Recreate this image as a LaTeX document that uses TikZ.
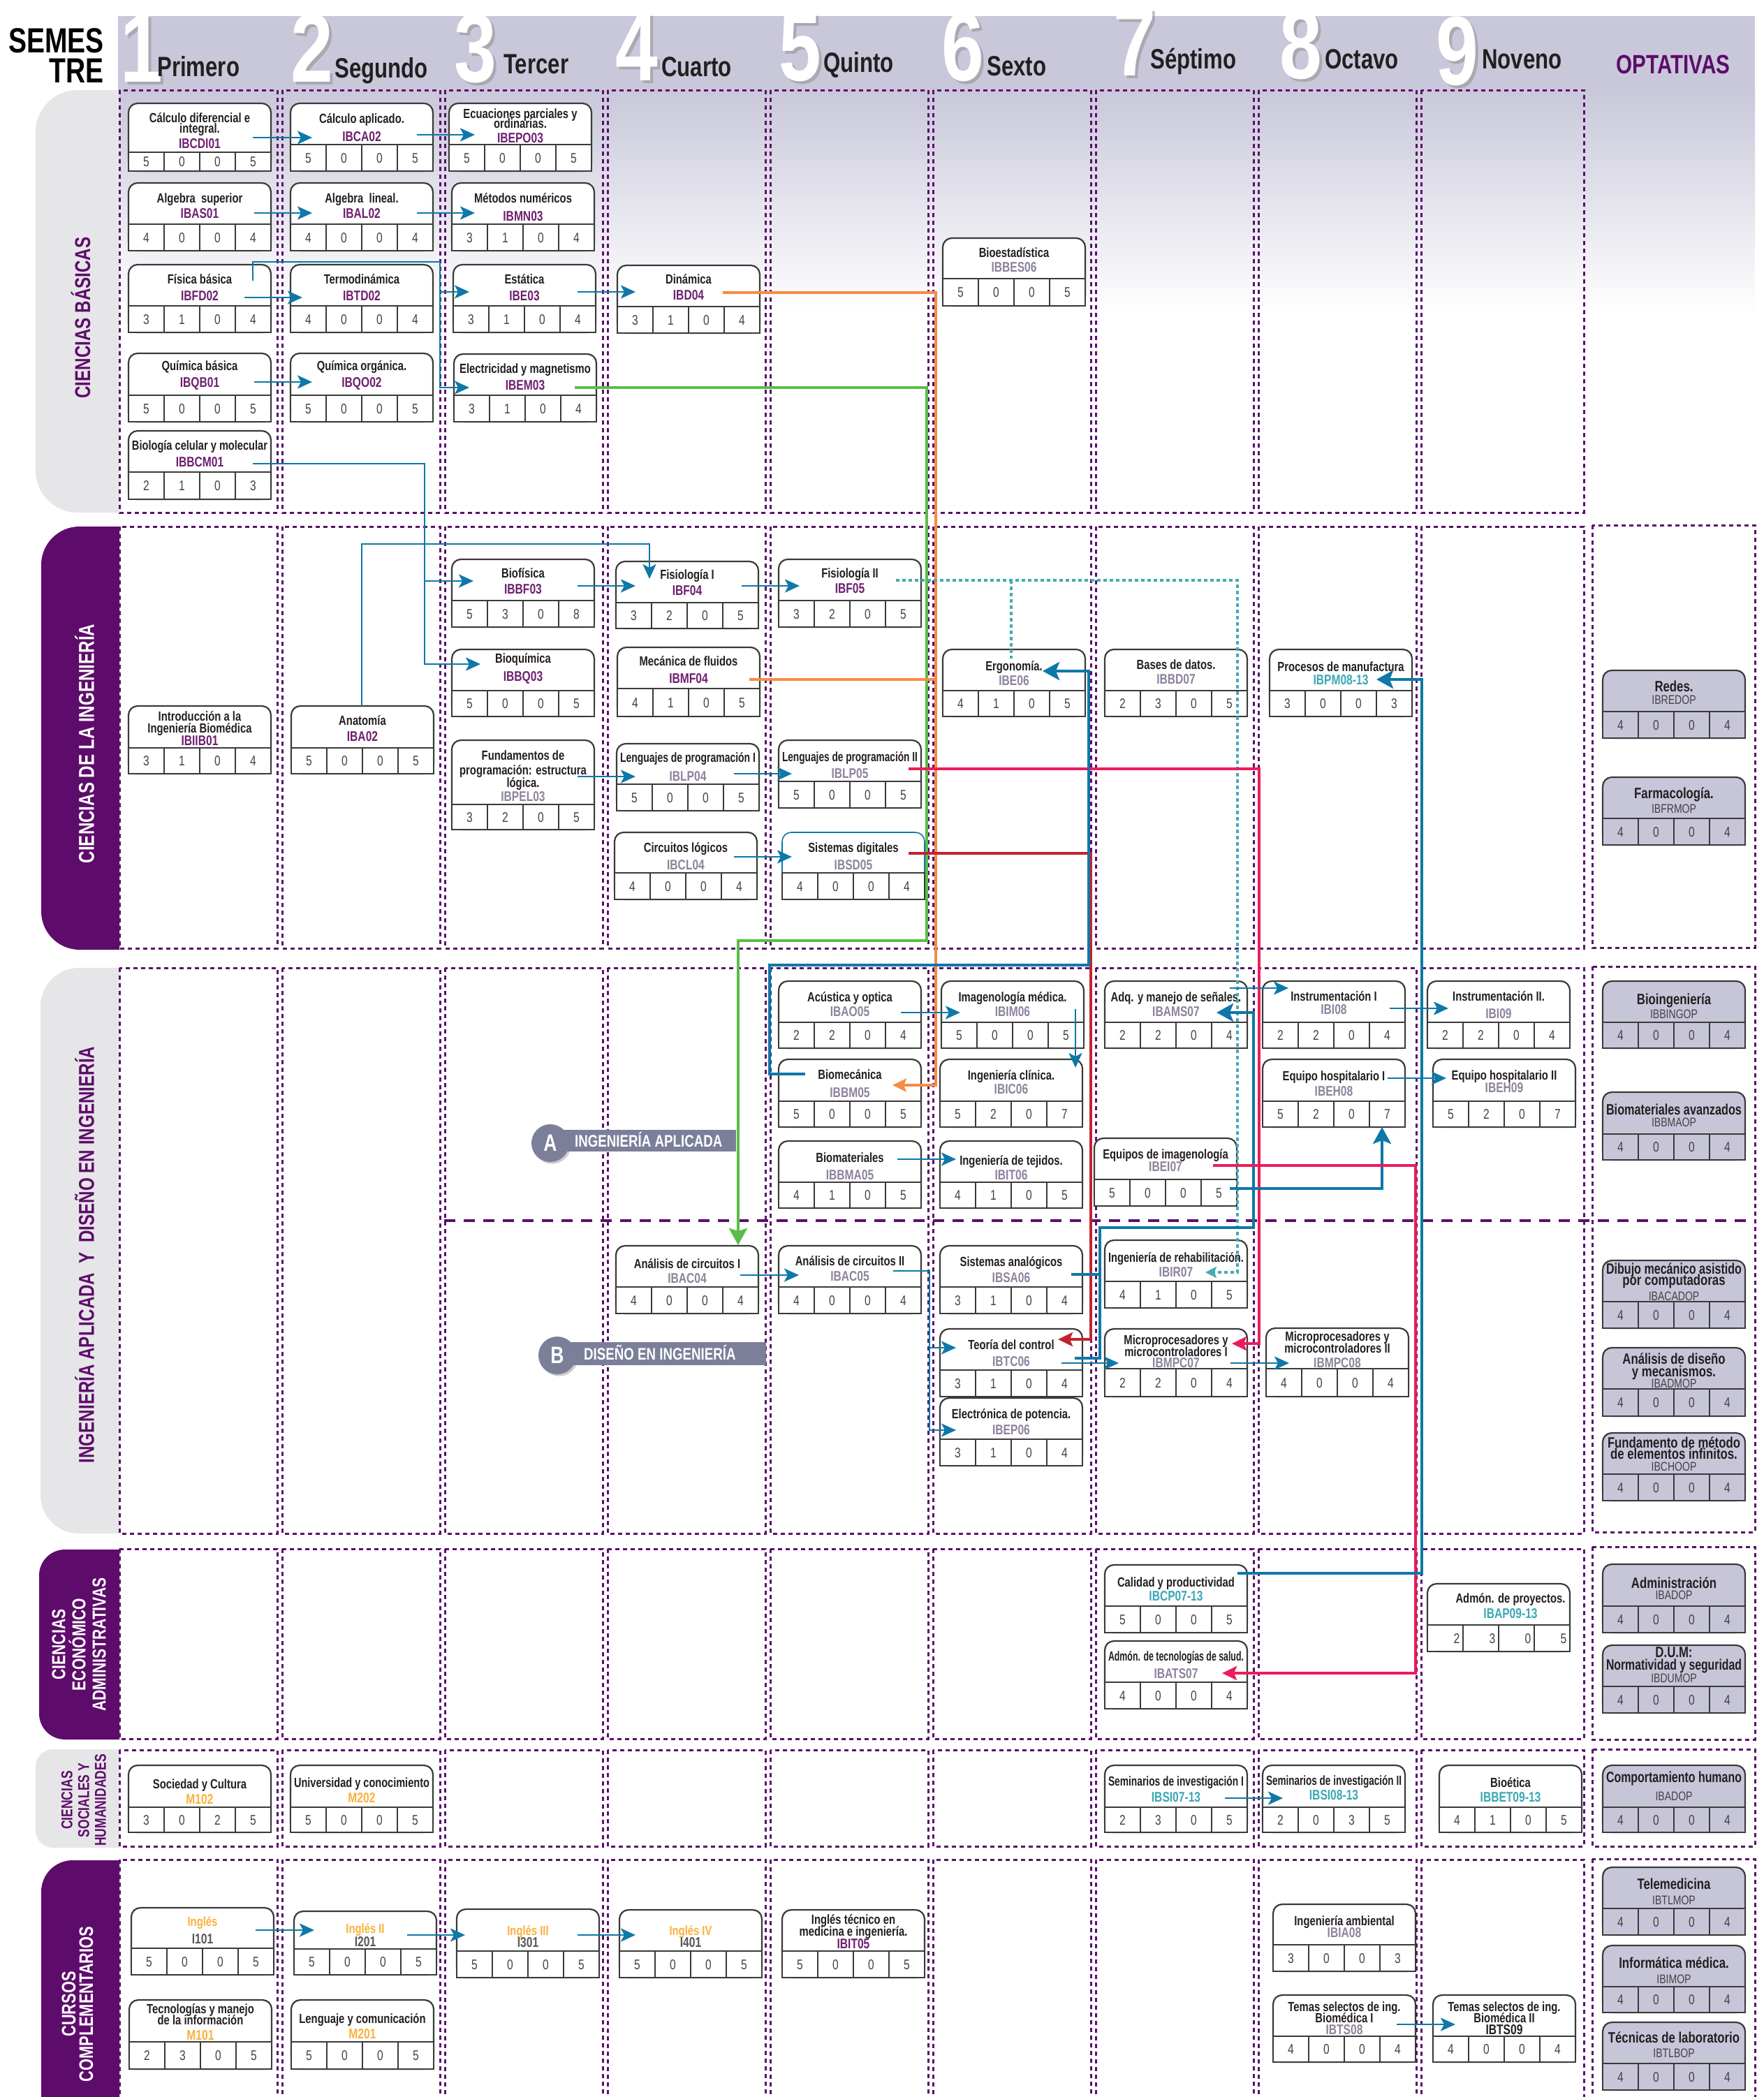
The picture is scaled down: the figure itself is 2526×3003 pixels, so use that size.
\documentclass[tikz,border=0pt]{standalone}
\usepackage{fontspec}
\setmainfont{Liberation Sans}[FakeStretch=0.78]
\usepackage{graphicx}
\usetikzlibrary{arrows.meta,shadows,calc}

\definecolor{ink}{HTML}{231F20}
\definecolor{boxl}{HTML}{3A3A3A}
\definecolor{cp}{HTML}{6E1F70}
\definecolor{cl}{HTML}{8E829E}
\definecolor{ct}{HTML}{3AA8B4}
\definecolor{co}{HTML}{FAB03C}
\definecolor{cg}{HTML}{555555}
\definecolor{lav}{HTML}{C7C6D9}
\definecolor{bandc}{HTML}{C9C8DA}
\definecolor{lgrey}{HTML}{E6E6E8}
\definecolor{purp}{HTML}{5E0C6B}
\definecolor{dotp}{HTML}{5C0F6C}
\definecolor{ablue}{HTML}{0E78A8}
\definecolor{aor}{HTML}{F58B45}
\definecolor{agr}{HTML}{5BBD48}
\definecolor{ared}{HTML}{EC1C5B}
\definecolor{adred}{HTML}{C12430}
\definecolor{ateal}{HTML}{46AAB4}
\definecolor{slate}{HTML}{7B7F99}

\newsavebox\cbx
\NewDocumentCommand\ctl{O{ink} m}{\sbox\cbx{\bfseries\color{#1}#2}\ifdim\wd\cbx>194pt\resizebox{194pt}{\height}{\usebox\cbx}\else\usebox\cbx\fi}
\newcommand\ccd[2]{{\fontsize{20}{22}\selectfont\bfseries\color{#1}#2}}
\newcommand\otl[1]{{\fontsize{21.5}{22}\selectfont\ctl{#1}}}
\newcommand\ocd[1]{{\fontsize{18}{22}\selectfont\color{ink!85}#1}}

% #1 header h, #2 total h, #3 gap, #4 name, #5 x, #6 y, #7 fill, #8 header text, #9 cells
\NewDocumentCommand\course{O{59} O{97} O{7} m m m m m m}{%
  \node[inner sep=0pt,outer sep=0pt,minimum width=204pt,minimum height=#2pt,anchor=north west] (#4) at (#5,#6) {};
  \filldraw[boxst,fill=#7,rounded corners=13pt] (#5,#6) rectangle ++(204,#2);
  \filldraw[fill=#7,boxst] (#5,{#6+#1}) rectangle ++(204,{#2-#1});
  \foreach \k in {1,2,3}{\draw[boxst] ({#5+51*\k},{#6+#1}) -- ++(0,{#2-#1});}
  \node[hdr] (#4-t) at ({#5+102},{#6+#1-#3}) {#8};
  \foreach \v [count=\k] in {#9}{\node[cellf] (#4-c\k) at ({#5+51*\k-25.5},{#6+#1/2+#2/2+7}) {\v};}
}
\newcommand\colgrid[2]{\foreach \i in {0,...,7}{\draw[coldot] ({171+233*\i},#1) rectangle ({397+233*\i},#2);}\draw[coldot] (2035,#1) rectangle (2268,#2);}
\newcommand\optcol[2]{\draw[coldot] (2280,#1) rectangle (2513,#2);}
\newcommand\semhd[7]{%
  \node[dig,text=black!45,opacity=.5] (#1s) at ({#3+4},{#4+4}) {#2};
  \node[dig] (#1d) at (#3,#4) {#2};
  \node[wrd] (#1w) at (#6,#7) {#5};}

\begin{document}
\begin{tikzpicture}[x=1pt,y=-1pt,
  boxst/.style={draw=boxl,line width=2.2pt},
  hdr/.style={anchor=south,align=center,inner sep=0pt,font=\fontsize{19}{22}\selectfont},
  cellf/.style={anchor=base,inner sep=0pt,font=\fontsize{20}{20}\selectfont,text=ink!85},
  coldot/.style={draw=dotp,line width=3pt,dash pattern=on 6pt off 5pt},
  splitd/.style={draw=dotp,line width=4.5pt,dash pattern=on 16pt off 12pt},
  cbl/.style={draw=ablue,line width=2.8pt,-{Stealth[length=21pt,width=19pt,inset=5pt]}},
  cblk/.style={draw=ablue,line width=4.5pt},
  cblkar/.style={cblk,-{Stealth[length=24pt,width=26pt,inset=5pt]}},
  cgr/.style={draw=agr,line width=4.5pt,-{Stealth[length=24pt,width=26pt,inset=4pt]}},
  corl/.style={draw=aor,line width=4pt},
  cor/.style={corl,-{Stealth[length=20pt,width=19pt,inset=4pt]}},
  crd/.style={draw=ared,line width=4pt,-{Stealth[length=21pt,width=20pt,inset=4pt]}},
  cdrd/.style={draw=adred,line width=4pt,-{Stealth[length=21pt,width=20pt,inset=4pt]}},
  ctdl/.style={draw=ateal,line width=4.5pt,dash pattern=on 5pt off 4pt},
  ctd/.style={ctdl,-{Stealth[length=16pt,width=16pt,inset=3pt]}},
  dig/.style={anchor=base,inner sep=0pt,text=white,font=\fontsize{140}{140}\selectfont\bfseries},
  wrd/.style={anchor=base west,inner sep=0pt,text=ink,font=\fontsize{40}{40}\selectfont\bfseries},
  sidel/.style={rotate=90,inner sep=0pt,align=center,font=\fontsize{31}{31}\selectfont\bfseries},
  badge/.style={circle,fill=slate,minimum size=54pt,inner sep=0pt,text=white,font=\fontsize{34}{34}\selectfont\bfseries,drop shadow={opacity=.4}},
  bantxt/.style={anchor=base west,inner sep=0pt,text=white,font=\fontsize{24}{24}\selectfont\bfseries}]
\useasboundingbox (0,0) rectangle (2526,3003);
\clip (0,0) rectangle (2526,3003);
\fill[white] (0,0) rectangle (2526,3003);

% header band
\fill[bandc] (169,23) rectangle (2513,129);
\shade[top color=bandc,bottom color=white] (169,129) rectangle (2513,450);

% side labels
\begin{scope}\clip (0,129) rectangle (171,734); \fill[lgrey,rounded corners=60pt] (51,129) rectangle (400,734);\end{scope}
\begin{scope}\clip (0,754) rectangle (171,1360); \fill[purp,rounded corners=55pt] (59,754) rectangle (400,1360);\end{scope}
\begin{scope}\clip (0,1386) rectangle (171,2196); \fill[lgrey,rounded corners=55pt] (58,1386) rectangle (400,2196);\end{scope}
\begin{scope}\clip (0,2219) rectangle (171,2491); \fill[purp,rounded corners=37pt] (56,2219) rectangle (400,2491);\end{scope}
\begin{scope}\clip (0,2505) rectangle (171,2646); \fill[lgrey,rounded corners=25pt] (51,2505) rectangle (400,2646);\end{scope}
\begin{scope}\clip (0,2664) rectangle (171,3010); \fill[purp,rounded corners=45pt] (59,2664) rectangle (400,3060);\end{scope}

\node[sidel,text=purp] (lab1) at (115.5,455) {CIENCIAS BÁSICAS};
\node[sidel,text=white] (lab2) at (121,1065) {CIENCIAS DE LA INGENIERÍA};
\node[sidel,text=purp] (lab3) at (121,1797) {INGENIERÍA APLICADA~ Y~ DISEÑO EN INGENIERÍA};
\node[sidel,text=white,font=\fontsize{27}{29}\selectfont\bfseries] (lab4) at (113,2355) {CIENCIAS\\ECONÓMICO\\ADMINISTRATIVAS};
\node[sidel,text=purp,font=\fontsize{22.5}{24}\selectfont\bfseries] (lab5) at (120,2578) {CIENCIAS\\SOCIALES Y\\HUMANIDADES};
\node[sidel,text=white,font=\fontsize{28}{25}\selectfont\bfseries] (lab6) at (111,2870) {CURSOS\\COMPLEMENTARIOS};

% column grids
\colgrid{129}{734}
\colgrid{754}{1358}\optcol{752}{1357}
\colgrid{1386}{2196}\optcol{1384}{2194}
\colgrid{2218}{2490}\optcol{2215}{2491}
\colgrid{2506}{2644}\optcol{2505}{2644}
\colgrid{2663}{3020}\optcol{2662}{3020}
\draw[splitd] (636,1748) -- (2513,1748);

% header texts
\node[anchor=base east,inner sep=0pt,font=\fontsize{50}{50}\selectfont\bfseries] (sem1) at (149,76) {SEMES};
\node[anchor=base east,inner sep=0pt,font=\fontsize{50}{50}\selectfont\bfseries] (sem2) at (149,118) {TRE};
\semhd{s1}{1}{203}{117}{Primero}{225}{109}
\semhd{s2}{2}{447}{117}{Segundo}{479}{111}
\semhd{s3}{3}{681}{117}{Tercer}{721}{105}
\semhd{s4}{4}{912}{115}{Cuarto}{947}{110}
\semhd{s5}{5}{1146}{115}{Quinto}{1179}{103}
\semhd{s6}{6}{1379}{115}{Sexto}{1413}{108}
\semhd{s7}{7}{1625}{108}{Séptimo}{1647}{99}
\semhd{s8}{8}{1863}{112}{Octavo}{1897}{98}
\semhd{s9}{9}{2087}{121}{Noveno}{2122}{98}
\node[anchor=base,inner sep=0pt,text=purp,font=\fontsize{38}{38}\selectfont\bfseries] (optt) at (2396,105) {OPTATIVAS};

% ---------- Ciencias basicas
\course[70][97][5]{cdi}{184}{148}{white}{\ctl{Cálculo diferencial e}\\[-7pt]\ctl{integral.}\\\ccd{cp}{IBCDI01}}{5,0,0,5}
\course[59][97][4]{ca}{416}{148}{white}{\ctl{Cálculo aplicado.}\\[4pt]\ccd{cp}{IBCA02}}{5,0,0,5}
\course[59][97][2]{epo}{643}{148}{white}{\ctl{Ecuaciones parciales y}\\[-8pt]\ctl{ordinarias.}\\[-1pt]\ccd{cp}{IBEPO03}}{5,0,0,5}
\course[59][97][8]{as01}{184}{262}{white}{\ctl{Algebra~ superior}\\\ccd{cp}{IBAS01}}{4,0,0,4}
\course[59][97][8]{al02}{416}{262}{white}{\ctl{Algebra~ lineal.}\\\ccd{cp}{IBAL02}}{4,0,0,4}
\course[59][97][4]{mn03}{647}{262}{white}{\ctl{Métodos numéricos}\\[4pt]\ccd{cp}{IBMN03}}{3,1,0,4}
\course{fd}{184}{379}{white}{\ctl{Física básica}\\[2pt]\ccd{cp}{IBFD02}}{3,1,0,4}
\course{td02}{416}{379}{white}{\ctl{Termodinámica}\\[2pt]\ccd{cp}{IBTD02}}{4,0,0,4}
\course{e03}{649}{379}{white}{\ctl{Estática}\\[2pt]\ccd{cp}{IBE03}}{3,1,0,4}
\course[60][98]{qb01}{184}{506}{white}{\ctl{Química básica}\\[2pt]\ccd{cp}{IBQB01}}{5,0,0,5}
\course[60][98]{qo02}{416}{506}{white}{\ctl{Química orgánica.}\\[2pt]\ccd{cp}{IBQO02}}{5,0,0,5}
\course[59][97]{em03}{650}{507}{white}{\ctl{Electricidad y magnetismo}\\[2pt]\ccd{cp}{IBEM03}}{3,1,0,4}
\course[59][98]{bcm}{184}{617}{white}{\ctl{Biología celular y molecular}\\[2pt]\ccd{cp}{IBBCM01}}{2,1,0,3}
\course[59][97][9]{d04}{884}{380}{white}{\ctl{Dinámica}\\[1pt]\ccd{cp}{IBD04}}{3,1,0,4}
\course[58][97][9]{bes}{1350}{341}{white}{\ctl{Bioestadística}\\[-1pt]\ccd{cl}{IBBES06}}{5,0,0,5}

% ---------- Ciencias de la ingenieria
\course[60][97][3]{iib}{184}{1011}{white}{\ctl{Introducción a la}\\[-5pt]\ctl{Ingeniería Biomédica}\\[-4pt]\ccd{cp}{IBIIB01}}{3,1,0,4}
\course[60][97][9]{a02}{417}{1011}{white}{\ctl{Anatomía}\\[1pt]\ccd{cp}{IBA02}}{5,0,0,5}
\course[59][97][9]{bf03}{647}{801}{white}{\ctl{Biofísica}\\[1pt]\ccd{cp}{IBBF03}}{5,3,0,8}
\course[59][96][9]{bq03}{647}{930}{white}{\ctl{Bioquímica}\\[4pt]\ccd{cp}{IBBQ03}}{5,0,0,5}
\course[92][128][4]{pel}{647}{1060}{white}{\ctl{Fundamentos de}\\[-1pt]\ctl{programación: estructura}\\[-4pt]\ctl{lógica.}\\[-2pt]\ccd{cl}{IBPEL03}}{3,2,0,5}
\course[59][96][10]{f04}{882}{804}{white}{\ctl{Fisiología I}\\[1pt]\ccd{cp}{IBF04}}{3,2,0,5}
\course[59][97][10]{f05}{1115}{801}{white}{\ctl{Fisiología II}\\\ccd{cp}{IBF05}}{3,2,0,5}
\course[59][99][7]{mf04}{884}{927}{white}{\ctl{Mecánica de fluidos}\\[3pt]\ccd{cp}{IBMF04}}{4,1,0,5}
\course[58][96][4]{lp04}{883}{1065}{white}{\ctl{Lenguajes de programación I}\\[5pt]\ccd{cl}{IBLP04}}{5,0,0,5}
\course[59][97][4]{lp05}{1115}{1060}{white}{\ctl{Lenguajes de programación II}\\[2pt]\ccd{cl}{IBLP05}}{5,0,0,5}
\course[58][96][4]{cl04}{880}{1192}{white}{\ctl{Circuitos lógicos}\\[3pt]\ccd{cl}{IBCL04}}{4,0,0,4}
\course[58][96][4]{sd05}{1120}{1192}{white,draw=ablue,line width=1.6pt}{\ctl{Sistemas digitales}\\[3pt]\ccd{cl}{IBSD05}}{4,0,0,4}
\course[59][96][7]{e06}{1350}{930}{white}{\ctl{Ergonomía.}\\[-1pt]\ccd{cl}{IBE06}}{4,1,0,5}
\course[59][96][9]{bd07}{1582}{930}{white}{\ctl{Bases de datos.}\\[-1pt]\ccd{cl}{IBBD07}}{2,3,0,5}
\course[59][96][8]{pm08}{1818}{930}{white}{\ctl{Procesos de manufactura}\\[-3pt]\ccd{ct}{IBPM08-13}}{3,0,0,3}
\course[59][97][10]{redes}{2295}{960}{lav}{\otl{Redes.}\\[-4pt]\ocd{IBREDOP}}{4,0,0,4}
\course[59][97][7]{farm}{2295}{1113}{lav}{\otl{Farmacología.}\\[-1pt]\ocd{IBFRMOP}}{4,0,0,4}

% ---------- Ingenieria aplicada (A)
\course[59][96][8]{ao05}{1115}{1405}{white}{\ctl{Acústica y optica}\\[-1pt]\ccd{cl}{IBAO05}}{2,2,0,4}
\course[59][96][8]{im06}{1348}{1405}{white}{\ctl{Imagenología médica.}\\[-1pt]\ccd{cl}{IBIM06}}{5,0,0,5}
\course[60][97][5]{bm05}{1115}{1517}{white}{\ctl{Biomecánica}\\[4pt]\ccd{cl}{IBBM05}}{5,0,0,5}
\course[60][97][10]{ic06}{1346}{1517}{white}{\ctl{Ingeniería clínica.}\\[-2pt]\ccd{cl}{IBIC06}}{5,2,0,7}
\course[59][96][3]{bma05}{1115}{1634}{white}{\ctl{Biomateriales}\\[3pt]\ccd{cl}{IBBMA05}}{4,1,0,5}
\course[59][96][3]{it06}{1346}{1634}{white}{\ctl{Ingeniería de tejidos.}\\[-1pt]\ccd{cl}{IBIT06}}{4,1,0,5}
\course[59][96][8]{ams07}{1582}{1405}{white}{\ctl{Adq. y manejo de señales.}\\[-1pt]\ccd{cl}{IBAMS07}}{2,2,0,4}
\course[59][97][11]{ei07}{1567}{1630}{white}{\ctl{Equipos de imagenología}\\[-4pt]\ccd{cl}{IBEI07}}{5,0,0,5}
\course[59][96][11]{i08}{1808}{1405}{white}{\ctl{Instrumentación I}\\[-3pt]\ccd{cl}{IBI08}}{2,2,0,4}
\course[59][96][5]{i09}{2044}{1405}{white}{\ctl{Instrumentación II.}\\[3pt]\ccd{cl}{IBI09}}{2,2,0,4}
\course[60][97][7]{eh08}{1808}{1517}{white}{\ctl{Equipo hospitalario I}\\\ccd{cl}{IBEH08}}{5,2,0,7}
\course[60][97][12]{eh09}{2052}{1517}{white}{\ctl{Equipo hospitalario II}\\[-4pt]\ccd{cl}{IBEH09}}{5,2,0,7}
\course[59][96][5]{bioing}{2295}{1405}{lav}{\otl{Bioingeniería}\\[-2pt]\ocd{IBBINGOP}}{4,0,0,4}
\course[60][97][10]{bmav}{2295}{1564}{lav}{\otl{Biomateriales avanzados}\\[-5pt]\ocd{IBBMAOP}}{4,0,0,4}

% ---------- Diseno en ingenieria (B)
\course[59][97][5]{ac04}{882}{1784}{white}{\ctl{Análisis de circuitos I}\\[-1pt]\ccd{cl}{IBAC04}}{4,0,0,4}
\course[59][97][8]{ac05}{1115}{1784}{white}{\ctl{Análisis de circuitos II}\\\ccd{cl}{IBAC05}}{4,0,0,4}
\course[59][97][6]{sa06}{1346}{1784}{white}{\ctl{Sistemas analógicos}\\[1pt]\ccd{cl}{IBSA06}}{3,1,0,4}
\course[59][97][5]{tc06}{1346}{1903}{white}{\ctl{Teoría del control}\\[2pt]\ccd{cl}{IBTC06}}{3,1,0,4}
\course[59][97][6]{ep06}{1346}{2002}{white}{\ctl{Electrónica de potencia.}\\[1pt]\ccd{cl}{IBEP06}}{3,1,0,4}
\course[59][97][6]{ir07}{1582}{1776}{white}{\ctl{Ingeniería de rehabilitación.}\\[-1pt]\ccd{cl}{IBIR07}}{4,1,0,5}
\course[57][97][1]{mpc07}{1582}{1903}{white}{\ctl{Microprocesadores y}\\[-5pt]\ctl{microcontroladores I}\\[-6pt]\ccd{cl}{IBMPC07}}{2,2,0,4}
\course[58][98][1]{mpc08}{1813}{1902}{white}{\ctl{Microprocesadores y}\\[-5pt]\ctl{microcontroladores II}\\[-1pt]\ccd{cl}{IBMPC08}}{4,0,0,4}
\course[59][97][1]{dib}{2295}{1805}{lav}{\otl{Dibujo mecánico asistido}\\[-6pt]\otl{por computadoras}\\[0pt]\ocd{IBACADOP}}{4,0,0,4}
\course[59][98][1]{adm}{2295}{1930}{lav}{\otl{Análisis de diseño}\\[-4pt]\otl{y mecanismos.}\\[-6pt]\ocd{IBADMOP}}{4,0,0,4}
\course[59][97][4]{fme}{2295}{2052}{lav}{\otl{Fundamento de método}\\[-6pt]\otl{de elementos infinitos.}\\[-5pt]\ocd{IBCHOOP}}{4,0,0,4}

% ---------- Economico administrativas
\course[59][97][7]{cp07}{1582}{2241}{white}{\ctl{Calidad y productividad}\\[-2pt]\ccd{ct}{IBCP07-13}}{5,0,0,5}
\course[59][97][5]{ats07}{1582}{2350}{white}{\ctl{Admón. de tecnologías de salud.}\\[3pt]\ccd{cl}{IBATS07}}{4,0,0,4}
\course[59][97][9]{ap09}{2044}{2268}{white}{\ctl{\hspace*{34pt}Admón. de proyectos.}\\\ccd{ct}{\hspace*{34pt}IBAP09-13}}{{\kern33pt 2},{\kern33pt 3},{\kern33pt 0},{\kern33pt 5}}
\course[60][98][9]{admin}{2295}{2240}{lav}{\otl{Administración}\\[-6pt]\ocd{IBADOP}}{4,0,0,4}
\course[59][97][5]{dum}{2295}{2356}{lav}{\otl{D.U.M:}\\[-4pt]\otl{Normatividad y seguridad}\\[-4pt]\ocd{IBDUMOP}}{4,0,0,4}

% ---------- Sociales y humanidades
\course[60][96][4]{m102}{184}{2528}{white}{\ctl{Sociedad y Cultura}\\\ccd{co}{M102}}{3,0,2,5}
\course[60][96][6]{m202}{416}{2528}{white}{\ctl{Universidad y conocimiento}\\\ccd{co}{M202}}{5,0,0,5}
\course[60][96][7]{si07}{1582}{2528}{white}{\ctl{Seminarios de investigación I}\\[1pt]\ccd{ct}{IBSI07-13}}{2,3,0,5}
\course[60][96][10]{si08}{1808}{2528}{white}{\ctl{Seminarios de investigación II}\\[-1pt]\ccd{ct}{IBSI08-13}}{2,0,3,5}
\course[60][96][7]{bet}{2061}{2528}{white}{\ctl{Bioética}\\[-1pt]\ccd{ct}{IBBET09-13}}{4,1,0,5}
\course[60][96][9]{comp}{2295}{2528}{lav}{\otl{Comportamiento humano}\\[4pt]\ocd{IBADOP}}{4,0,0,4}

% ---------- Cursos complementarios
\course[58][96][6]{i101}{188}{2732}{white}{\ctl[co]{Inglés}\\[3pt]\ccd{cg}{I101}}{5,0,0,5}
\course[54][91][3]{i201}{421}{2737}{white}{\ctl[co]{Inglés II}\\[-3pt]\ccd{cg}{I201}}{5,0,0,5}
\course[60][98][5]{i301}{654}{2734}{white}{\ctl[co]{Inglés III}\\[-5pt]\ccd{cg}{I301}}{5,0,0,5}
\course[59][97][5]{i401}{887}{2735}{white}{\ctl[co]{Inglés IV}\\[-5pt]\ccd{cg}{I401}}{5,0,0,5}
\course[59][97][3]{it05}{1120}{2735}{white}{\ctl{Inglés técnico en}\\[-5pt]\ctl{medicina e ingeniería.}\\[-4pt]\ccd{cp}{IBIT05}}{5,0,0,5}
\course[60][99][2]{m101}{185}{2864}{white}{\ctl{Tecnologías y manejo}\\[-6pt]\ctl{de la información}\\\ccd{co}{M101}}{2,3,0,5}
\course[60][99][4]{m201}{417}{2864}{white}{\ctl{Lenguaje y comunicación}\\\ccd{co}{M201}}{5,0,0,5}
\course[58][96][10]{ia08}{1823}{2727}{white}{\ctl{Ingeniería ambiental}\\[-5pt]\ccd{cl}{IBIA08}}{3,0,0,3}
\course[59][96][2]{ts08}{1823}{2857}{white}{\ctl{Temas selectos de ing.}\\[-6pt]\ctl{Biomédica I}\\[-5pt]\ccd{cl}{IBTS08}}{4,0,0,4}
\course[59][96][2]{ts09}{2052}{2857}{white}{\ctl{Temas selectos de ing.}\\[-6pt]\ctl{Biomédica II}\\[-5pt]\ccd{ink}{IBTS09}}{4,0,0,4}
\course[59][97][5]{tele}{2295}{2674}{lav}{\otl{Telemedicina}\\\ocd{IBTLMOP}}{4,0,0,4}
\course[59][96][4]{infm}{2295}{2786}{lav}{\otl{Informática médica.}\\\ocd{IBIMOP}}{4,0,0,4}
\course[59][97][8]{tlab}{2295}{2896}{lav}{\otl{Técnicas de laboratorio}\\[-1pt]\ocd{IBTLBOP}}{4,0,0,4}

% ---------- connectors
\draw[cbl] ([shift={(178,49)}]cdi.north west) -- ([shift={(31,49)}]ca.north west);
\draw[cbl] ([shift={(181,45)}]ca.north west) -- ([shift={(37,45)}]epo.north west);
\draw[cbl] ([shift={(180,43)}]as01.north west) -- ([shift={(31,43)}]al02.north west);
\draw[cbl] ([shift={(181,43)}]al02.north west) -- ([shift={(33,43)}]mn03.north west);
\draw[cbl] ([shift={(166,47)}]fd.north west) -- ([shift={(17,47)}]td02.north west);
\draw[cbl] ([shift={(178,23)}]fd.north west) -- (362,375) -- (630,375) -- (630,418) -- ([shift={(23,39)}]e03.north west);
\draw[cbl] (630,418) -- (630,555) -- ([shift={(22,48)}]em03.north west);
\draw[cbl] ([shift={(178,39)}]e03.north west) -- ([shift={(26,38)}]d04.north west);
\draw[cbl] ([shift={(180,41)}]qb01.north west) -- ([shift={(31,41)}]qo02.north west);
\draw[cgr] ([shift={(173,48)}]em03.north west) -- (1327,555) -- (1327,1347) -- (1057,1347) -- ([shift={(175,-1)}]ac04.north west);
\draw[cor] ([shift={(151,39)}]d04.north west) -- (1340,419) -- (1340,1554) -- ([shift={(163,37)}]bm05.north west);
\draw[corl] ([shift={(189,46)}]mf04.north west) -- (1340,973);
\draw[cbl] ([shift={(178,47)}]bcm.north west) -- (608,664) -- (608,951) -- ([shift={(41,21)}]bq03.north west);
\draw[cbl] (608,832) -- ([shift={(31,31)}]bf03.north west);
\draw[cbl] ([shift={(101,0)}]a02.north west) -- (518,779) -- (930,779) -- ([shift={(48,25)}]f04.north west);
\draw[cbl] ([shift={(180,38)}]bf03.north west) -- ([shift={(28,35)}]f04.north west);
\draw[cbl] ([shift={(180,35)}]f04.north west) -- ([shift={(30,38)}]f05.north west);
\draw[ctd] ([shift={(168,30)}]f05.north west) -- (1772,831) -- (1772,1822) -- ([shift={(144,46)}]ir07.north west);
\draw[ctdl] (1448,831) -- ([shift={(98,13)}]e06.north west);
\draw[cbl] ([shift={(168,43)}]lp04.north west) -- ([shift={(19,48)}]lp05.north west);
\draw[cbl] ([shift={(180,52)}]pel.north west) -- ([shift={(27,47)}]lp04.north west);
\draw[cbl] ([shift={(171,35)}]cl04.north west) -- ([shift={(14,35)}]sd05.north west);
\draw[crd] ([shift={(186,41)}]lp05.north west) -- (1803,1101) -- (1803,1924) -- ([shift={(182,21)}]mpc07.north west);
\draw[cdrd] ([shift={(181,30)}]sd05.north west) -- (1562,1222) -- (1562,1918) -- ([shift={(169,15)}]tc06.north west);
\draw[cblkar] ([shift={(38,21)}]bm05.north west) -- (1102,1538) -- (1102,1382) -- (1559,1382) -- (1559,961) -- ([shift={(143,31)}]e06.north west);
\draw[cbl] ([shift={(175,45)}]ao05.north west) -- ([shift={(27,45)}]im06.north west);
\draw[cbl] ([shift={(192,40)}]im06.north west) -- ([shift={(194,12)}]ic06.north west);
\draw[cbl] ([shift={(170,26)}]bma05.north west) -- ([shift={(23,26)}]it06.north west);
\draw[cbl] ([shift={(179,10)}]ams07.north west) -- ([shift={(37,10)}]i08.north west);
\draw[cbl] ([shift={(182,39)}]i08.north west) -- ([shift={(30,39)}]i09.north west);
\draw[cbl] ([shift={(179,27)}]eh08.north west) -- ([shift={(19,27)}]eh09.north west);
\draw[cblkar] ([shift={(188,41)}]sa06.north west) -- (1575,1825) -- (1575,1758) -- (1795,1758) -- (1795,1450) -- ([shift={(160,45)}]ams07.north west);
\draw[cblk] ([shift={(193,42)}]tc06.north west) -- (1575,1945) -- (1575,1825);
\draw[cbl] ([shift={(174,49)}]tc06.north west) -- ([shift={(20,49)}]mpc07.north west);
\draw[cbl] ([shift={(180,49)}]mpc07.north west) -- ([shift={(33,50)}]mpc08.north west);
\draw[cbl] ([shift={(178,42)}]ac04.north west) -- ([shift={(29,42)}]ac05.north west);
\draw[cbl] ([shift={(164,36)}]ac05.north west) -- (1331,1820) -- (1331,2048) -- ([shift={(23,46)}]ep06.north west);
\draw[cbl] (1331,1930) -- ([shift={(23,27)}]tc06.north west);
\draw[cblkar] ([shift={(194,72)}]ei07.north west) -- (1979,1702) -- ([shift={(171,97)}]eh08.north west);
\draw[crd] ([shift={(170,39)}]ei07.north west) -- (2027,1669) -- (2027,2396) -- ([shift={(168,46)}]ats07.north west);
\draw[cblkar] ([shift={(190,12)}]cp07.north west) -- (2036,2253) -- (2036,973) -- ([shift={(153,43)}]pm08.north west);
\draw[cbl] ([shift={(172,47)}]si07.north west) -- ([shift={(29,47)}]si08.north west);
\draw[cbl] ([shift={(178,32)}]i101.north west) -- ([shift={(29,27)}]i201.north west);
\draw[cbl] ([shift={(162,34)}]i201.north west) -- ([shift={(12,37)}]i301.north west);
\draw[cbl] ([shift={(173,37)}]i301.north west) -- ([shift={(23,36)}]i401.north west);
\draw[cbl] ([shift={(177,42)}]ts08.north west) -- ([shift={(32,42)}]ts09.north west);

% ---------- badges A / B
\node[fill=slate,inner sep=0pt,minimum width=266pt,minimum height=31pt,anchor=west] (Aban) at (788,1633.5) {};
\node[bantxt] (Atxt) at (823,1642) {INGENIERÍA APLICADA};
\node[badge] (Acirc) at (788,1637) {A};
\node[fill=slate,inner sep=0pt,minimum width=299pt,minimum height=33pt,anchor=west] (Bban) at (798,1938.5) {};
\node[bantxt] (Btxt) at (836,1947) {DISEÑO EN INGENIERÍA};
\node[badge] (Bcirc) at (798,1941) {B};
\end{tikzpicture}
\end{document}
